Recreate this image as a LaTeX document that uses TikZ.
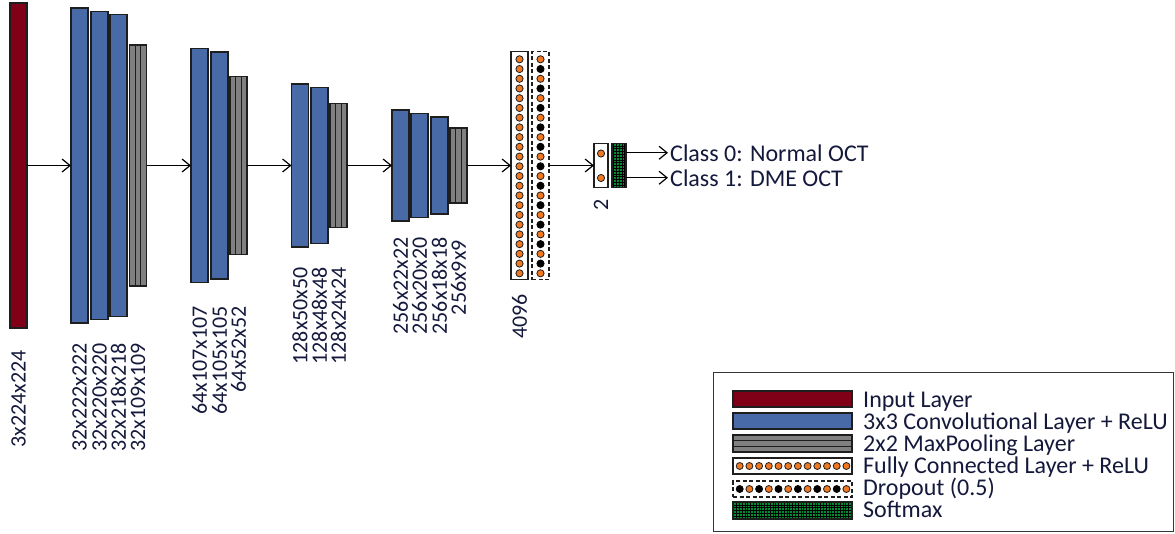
\documentclass[tikz,border=0pt]{standalone}
\usepackage{fontspec}
\setmainfont{Carlito}
\usetikzlibrary{arrows.meta,calc}
\definecolor{inred}{RGB}{128,0,24}
\definecolor{convblue}{RGB}{72,106,166}
\definecolor{poolgray}{RGB}{128,128,128}
\definecolor{dotorange}{RGB}{240,120,32}
\definecolor{smgreen}{RGB}{0,140,50}
\definecolor{edgec}{RGB}{30,30,30}
\definecolor{txt}{RGB}{20,25,60}
\tikzset{
  lay/.style={draw=edgec, line width=1.3pt, minimum width=17pt, inner sep=0pt, outer sep=0pt},
  inlayer/.style={lay, fill=inred, minimum height=#1},
  conv/.style={lay, fill=convblue, minimum height=#1},
  pool/.style={lay, fill=poolgray, minimum height=#1, path picture={
     \foreach \f in {0.3333,0.6667}{\draw[edgec, line width=1pt]
       ($(path picture bounding box.south west)!\f!(path picture bounding box.south east)$) --
       ($(path picture bounding box.north west)!\f!(path picture bounding box.north east)$);}}},
  hpool/.style={lay, fill=poolgray, path picture={
     \foreach \f in {0.3333,0.6667}{\draw[edgec, line width=1pt]
       ($(path picture bounding box.south west)!\f!(path picture bounding box.north west)$) --
       ($(path picture bounding box.south east)!\f!(path picture bounding box.north east)$);}}},
  fcbox/.style={lay, fill=white},
  dobox/.style={lay, fill=white, dash pattern=on 4pt off 2.5pt},
  smbox/.style={lay, fill=smgreen, path picture={
     \draw[black, line width=0.5pt, step=2.8pt] (path picture bounding box.south west) grid (path picture bounding box.north east);}},
  odot/.style={draw=edgec, line width=0.8pt, fill=dotorange},
  bdot/.style={draw=black, line width=0.8pt, fill=black},
  arr/.style={draw=black, line width=1.2pt, -{Straight Barb[length=8pt,width=13pt]}},
  lbl/.style={rotate=90, anchor=east, inner sep=0pt, text=txt, font=\fontsize{22}{24}\selectfont},
  htxt/.style={anchor=base west, inner ysep=0pt, inner xsep=2pt, text=txt, font=\fontsize{24}{26}\selectfont},
  legbox/.style={draw=edgec!90, line width=1.2pt, fill=white, inner sep=0pt}
}
\begin{document}
\begin{tikzpicture}[x=1pt,y=-1pt]
\useasboundingbox (0,0) rectangle (1175,533);
% layers
\node[inlayer=325] (inp) at (18.5,165.5) {};
\node[conv=315] (c1a) at (79.5,165.5) {};
\node[conv=308] (c1b) at (99.5,165.5) {};
\node[conv=302] (c1c) at (118.5,165.5) {};
\node[pool=241] (p1) at (138,165.5) {};
\node[conv=234] (c2a) at (199.5,165.5) {};
\node[conv=227] (c2b) at (219.5,165.5) {};
\node[pool=178] (p2) at (238.5,165.5) {};
\node[conv=163] (c3a) at (300,165.5) {};
\node[conv=156] (c3b) at (319.5,165.5) {};
\node[pool=124] (p3) at (338.5,165.5) {};
\node[conv=111] (c4a) at (400.5,165.5) {};
\node[conv=104] (c4b) at (419.5,165.5) {};
\node[conv=97] (c4c) at (439.5,165.5) {};
\node[pool=75] (p4) at (458.5,165.5) {};
\node[fcbox, minimum height=228] (fc) at (519.5,165.5) {};
\node[dobox, minimum height=228] (do) at (540.5,165.5) {};
\foreach \i in {0,...,22}{
  \draw[odot] (519.5,59.3+\i*9.727) circle (3.6);
  \pgfmathparse{int(mod(\i,2))}
  \ifnum\pgfmathresult=0 \draw[odot] (540.5,59.3+\i*9.727) circle (3.6);
  \else \draw[bdot] (540.5,59.3+\i*9.727) circle (3.6); \fi
}
\node[fcbox, minimum width=14pt, minimum height=44] (fc2) at (601,165.5) {};
\draw[odot] (601,153.5) circle (3.6);
\draw[odot] (601,178) circle (3.6);
\node[smbox, minimum width=14pt, minimum height=44] (sm) at (619,165.5) {};
% arrows
\draw[arr] (inp.east) -- (c1a.west);
\draw[arr] (p1.east) -- (c2a.west);
\draw[arr] (p2.east) -- (c3a.west);
\draw[arr] (p3.east) -- (c4a.west);
\draw[arr] (p4.east) -- (fc.west);
\draw[arr] (do.east) -- (fc2.west);
\node[htxt] (cls0) at (668,161) {Class 0: Normal OCT};
\node[htxt] (cls1) at (668,186) {Class 1: DME OCT};
\draw[arr] (sm.east |- cls0.west) -- (cls0.west);
\draw[arr] (sm.east |- cls1.west) -- (cls1.west);
% labels
\node[lbl] (l0) at (18.5,350) {3x224x224};
\node[lbl] (l1a) at (79.5,343) {32x222x222};
\node[lbl] (l1b) at (99.5,343) {32x220x220};
\node[lbl] (l1c) at (118.5,343) {32x218x218};
\node[lbl] (l1p) at (138,343) {32x109x109};
\node[lbl] (l2a) at (199.5,306) {64x107x107};
\node[lbl] (l2b) at (219.5,306) {64x105x105};
\node[lbl] (l2p) at (238.5,306) {64x52x52};
\node[lbl] (l3a) at (300,267) {128x50x50};
\node[lbl] (l3b) at (319.5,267) {128x48x48};
\node[lbl] (l3p) at (338.5,267) {128x24x24};
\node[lbl] (l4a) at (400.5,237) {256x22x22};
\node[lbl] (l4b) at (419.5,237) {256x20x20};
\node[lbl] (l4c) at (439.5,237) {256x18x18};
\node[lbl] (l4p) at (458.5,240) {256x9x9};
\node[lbl] (lfc) at (519.5,294) {4096};
\node[lbl] (lfc2) at (601,199) {2};
% legend
\node[legbox, minimum width=460, minimum height=159] (legend) at (943.5,452) {};
\node[inlayer=16, minimum width=119] (gin) at (792.5,399) {};
\node[conv=16, minimum width=119] (gconv) at (792.5,421) {};
\node[hpool, minimum width=119, minimum height=17] (gpool) at (792.5,443.5) {};
\node[fcbox, minimum width=119, minimum height=16] (gfc) at (792.5,466) {};
\node[dobox, minimum width=119, minimum height=16] (gdo) at (792.5,489) {};
\node[smbox, minimum width=119, minimum height=17] (gsm) at (792.5,510.5) {};
\foreach \j in {0,...,11}{
  \draw[odot] (739.7+\j*9.7,466) circle (3.5);
  \pgfmathparse{int(mod(\j,2))}
  \ifnum\pgfmathresult=0 \draw[bdot] (739.7+\j*9.7,489) circle (3.5);
  \else \draw[odot] (739.7+\j*9.7,489) circle (3.5); \fi
}
\node[htxt] (tin) at (861,407) {Input Layer};
\node[htxt] (tconv) at (861,429) {3x3 Convolutional Layer + ReLU};
\node[htxt] (tpool) at (861,451) {2x2 MaxPooling Layer};
\node[htxt] (tfc) at (861,473) {Fully Connected Layer + ReLU};
\node[htxt] (tdo) at (861,495) {Dropout (0.5)};
\node[htxt] (tsm) at (861,517) {Softmax};
\end{tikzpicture}
\end{document}
